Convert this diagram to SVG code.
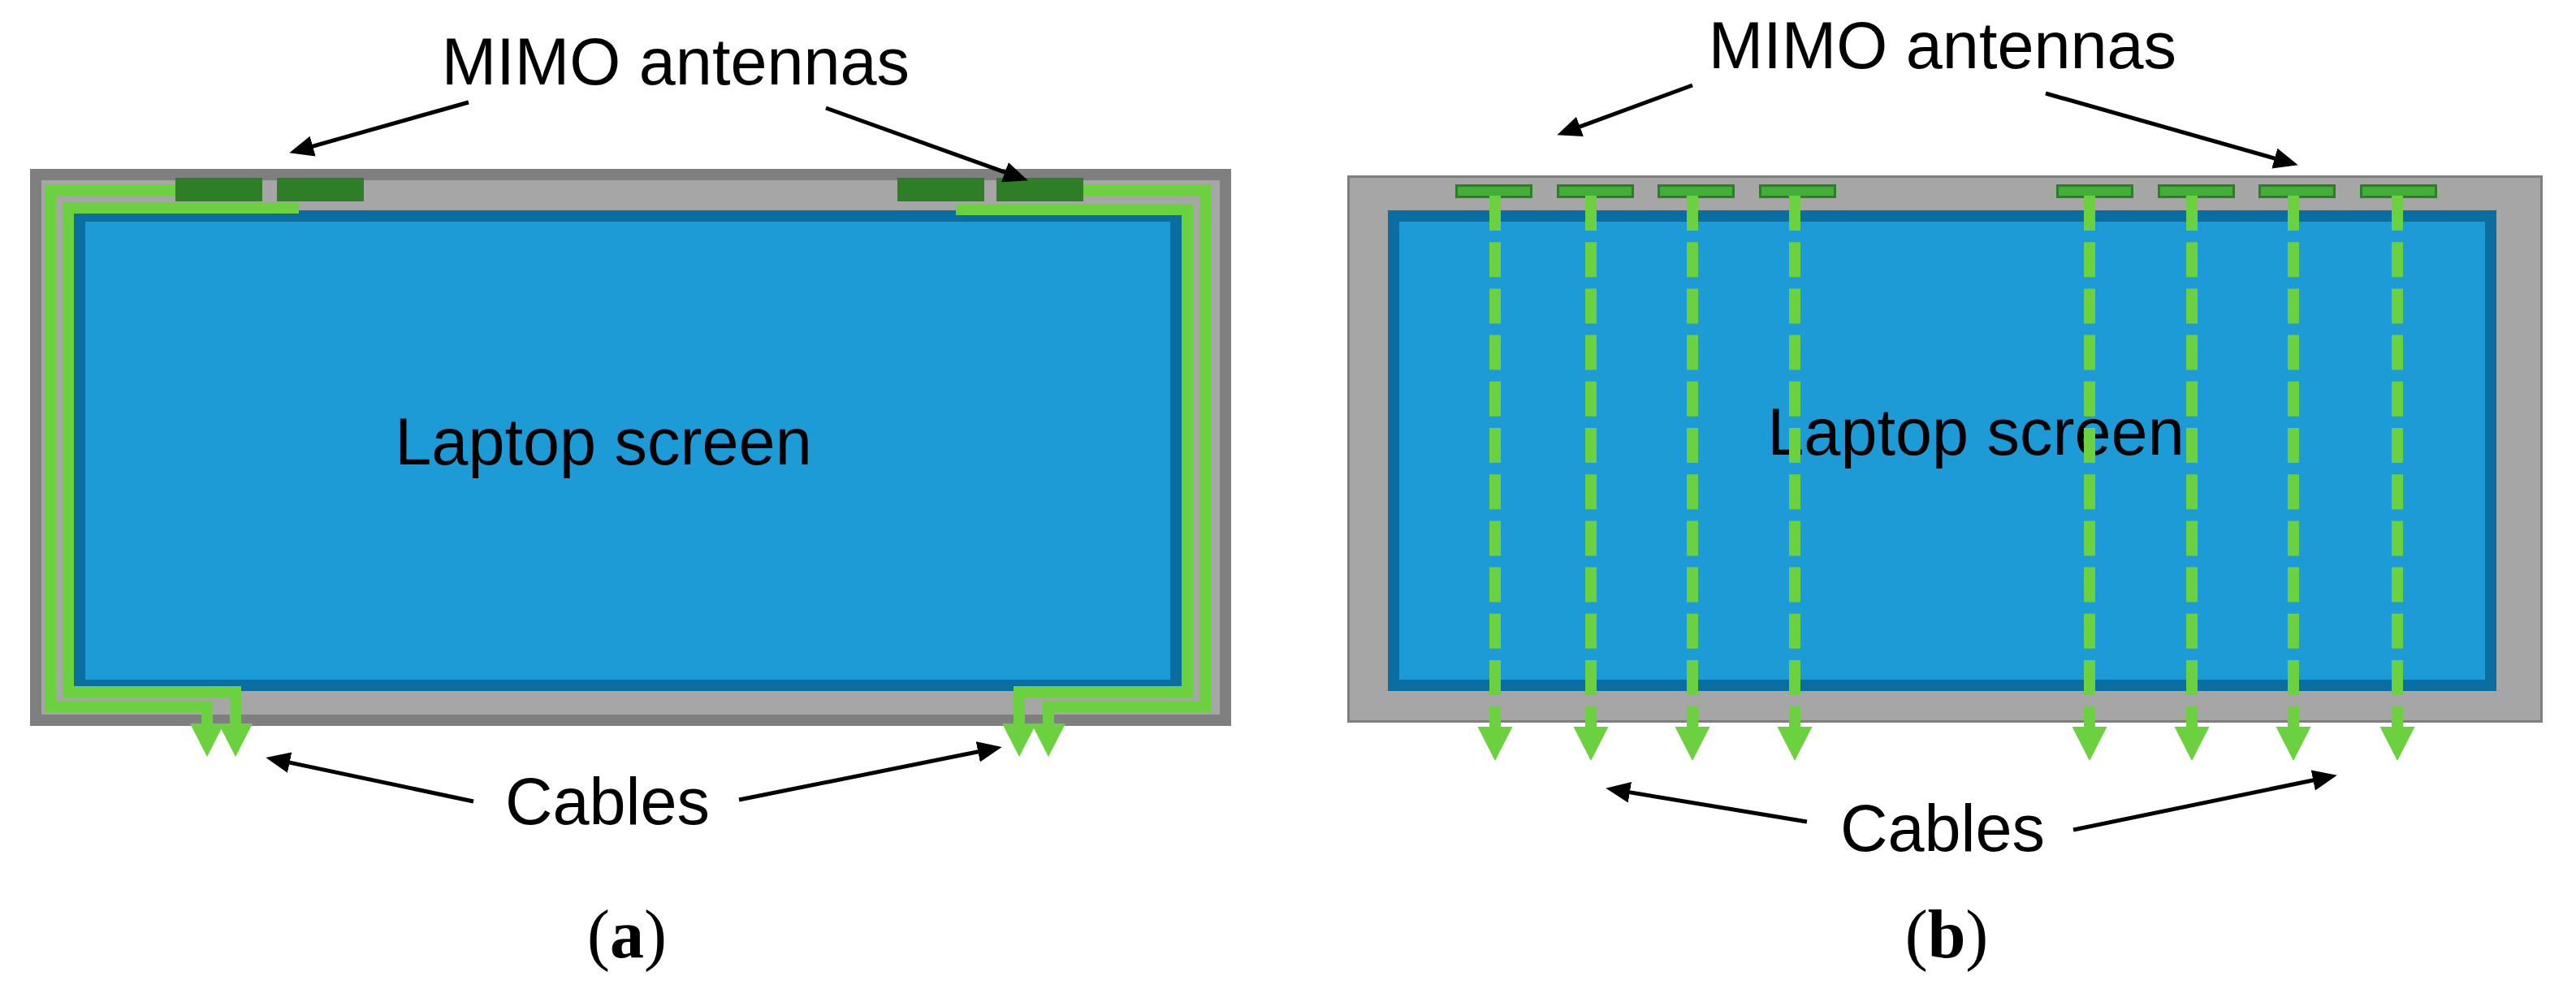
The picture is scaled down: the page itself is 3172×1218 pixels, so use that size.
<svg xmlns="http://www.w3.org/2000/svg" width="3172" height="1218" viewBox="0 0 3172 1218">
<style>
.lbl{font-family:"Liberation Sans",Arial,sans-serif;font-size:81px;fill:#000;text-anchor:middle}
.cap{font-family:"Liberation Serif","Times New Roman",serif;font-size:84px;fill:#000;text-anchor:middle}
.cable{fill:none;stroke:#6bd13f;stroke-width:14;stroke-linejoin:miter}
.dash{fill:none;stroke:#6bd13f;stroke-width:14;stroke-dasharray:43 14.2}
.head{fill:#6bd13f}
.ptr{fill:none;stroke:#000;stroke-width:5;marker-end:url(#ah)}
.ant-a{fill:#2e7d27}
.ant-b{fill:#44ae3a;stroke:#2e7d27;stroke-width:3}
</style>
<defs>
<marker id="ah" markerUnits="userSpaceOnUse" markerWidth="30" markerHeight="26" refX="18" refY="12" orient="auto" viewBox="0 0 28 24">
<path d="M0,0 L28,12 L0,24 z" fill="#000"/>
</marker>
</defs>
<rect width="3172" height="1218" fill="#fff"/>

<g id="panel-a">
<g id="a-frame">
<rect x="44" y="215" width="1465" height="672" fill="#a6a6a6" stroke="#7f7f7f" stroke-width="14"/>
</g>
<g id="a-screen">
<rect x="98" y="266" width="1350" height="578" fill="#1d9bd7" stroke="#0a6fa0" stroke-width="14"/>
<text class="lbl" x="743" y="572">Laptop screen</text>
</g>
<g id="a-cables">
<path class="cable" d="M216,234 H62 V870 H255 V893"/>
<path class="cable" d="M368,256 H84 V852 H290 V893"/>
<path class="cable" d="M1330,234 H1484 V870 H1291 V893"/>
<path class="cable" d="M1177,258 H1462 V852 H1255 V893"/>
<path class="head" d="M234,891 L276,891 L255,932 z"/>
<path class="head" d="M269,891 L311,891 L290,932 z"/>
<path class="head" d="M1234,891 L1276,891 L1255,932 z"/>
<path class="head" d="M1270,891 L1312,891 L1291,932 z"/>
</g>
<g id="a-antennas">
<rect class="ant-a" x="216" y="219" width="107" height="29"/>
<rect class="ant-a" x="341" y="219" width="107" height="29"/>
<rect class="ant-a" x="1105" y="219" width="107" height="29"/>
<rect class="ant-a" x="1227" y="219" width="107" height="29"/>
</g>
<g id="a-labels">
<text class="lbl" x="832" y="104">MIMO antennas</text>
<text class="lbl" x="748" y="1015">Cables</text>
<text class="cap" x="772" y="1179">(<tspan font-weight="bold">a</tspan>)</text>
</g>
</g>

<g id="panel-b">
<g id="b-frame">
<rect x="1660.5" y="217.5" width="1469" height="671" fill="#a6a6a6" stroke="#7f7f7f" stroke-width="3"/>
</g>
<g id="b-screen">
<rect x="1716" y="266" width="1351" height="578" fill="#1d9bd7" stroke="#0a6fa0" stroke-width="14"/>
<text class="lbl" x="2433" y="560">Laptop screen</text>
</g>
<g id="b-antennas">
<rect class="ant-b" x="1793.5" y="228.5" width="92" height="14"/>
<rect class="ant-b" x="1918.5" y="228.5" width="92" height="14"/>
<rect class="ant-b" x="2042.5" y="228.5" width="92" height="14"/>
<rect class="ant-b" x="2167.5" y="228.5" width="92" height="14"/>
<rect class="ant-b" x="2533.5" y="228.5" width="92" height="14"/>
<rect class="ant-b" x="2658.5" y="228.5" width="92" height="14"/>
<rect class="ant-b" x="2782.5" y="228.5" width="92" height="14"/>
<rect class="ant-b" x="2907.5" y="228.5" width="92" height="14"/>
</g>
<g id="b-cables">
<path class="dash" d="M1841,241 V896"/>
<path class="dash" d="M1959,241 V896"/>
<path class="dash" d="M2084,241 V896"/>
<path class="dash" d="M2210,241 V896"/>
<path class="dash" d="M2573,241 V896"/>
<path class="dash" d="M2699,241 V896"/>
<path class="dash" d="M2824,241 V896"/>
<path class="dash" d="M2952,241 V896"/>
<path class="head" d="M1819.5,895 L1862.5,895 L1841,937 z"/>
<path class="head" d="M1937.5,895 L1980.5,895 L1959,937 z"/>
<path class="head" d="M2062.5,895 L2105.5,895 L2084,937 z"/>
<path class="head" d="M2188.5,895 L2231.5,895 L2210,937 z"/>
<path class="head" d="M2551.5,895 L2594.5,895 L2573,937 z"/>
<path class="head" d="M2677.5,895 L2720.5,895 L2699,937 z"/>
<path class="head" d="M2802.5,895 L2845.5,895 L2824,937 z"/>
<path class="head" d="M2930.5,895 L2973.5,895 L2952,937 z"/>
</g>
<g id="b-labels">
<text class="lbl" x="2392" y="84">MIMO antennas</text>
<text class="lbl" x="2392" y="1048">Cables</text>
<text class="cap" x="2397" y="1179">(<tspan font-weight="bold">b</tspan>)</text>
</g>
</g>

<g id="connectors">
<path class="ptr" d="M577,126 L366.6,185.3"/>
<path class="ptr" d="M1017,133 L1255.6,218.6"/>
<path class="ptr" d="M583,987 L337.8,935.1"/>
<path class="ptr" d="M910,985 L1223.2,922"/>
<path class="ptr" d="M2084,105 L1927.4,162.6"/>
<path class="ptr" d="M2519,115 L2819.4,200.3"/>
<path class="ptr" d="M2225,1012 L1987.9,972.6"/>
<path class="ptr" d="M2553,1022 L2867.2,957"/>
</g>
</svg>
